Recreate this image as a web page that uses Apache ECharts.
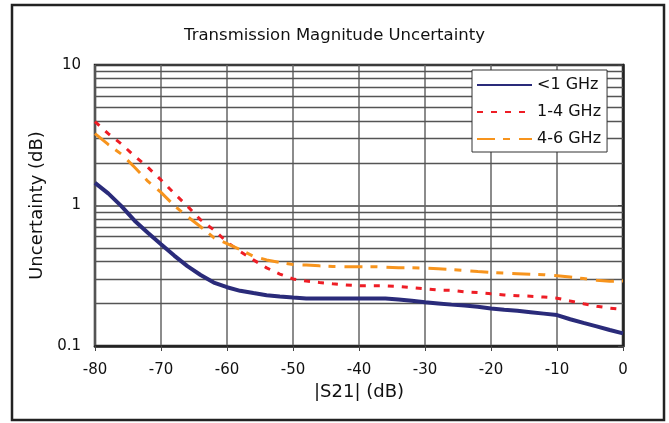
<!DOCTYPE html>
<html>
<head>
<meta charset="utf-8">
<script src="https://cdn.jsdelivr.net/npm/echarts@6/dist/echarts.min.js"></script>
<style>
html,body{margin:0;padding:0;background:#fff;}
#c{width:669px;height:423px;}
</style>
</head>
<body>
<div id="c"></div>
<script>
// S21 (dB) sample points
const s21 = [-80,-78,-76,-74,-72,-70,-68,-66,-64,-62,-60,-58,-56,-54,-52,-50,-48,-46,-44,-42,-40,-38,-36,-34,-32,-30,-28,-26,-24,-22,-20,-18,-16,-14,-12,-10,-8,-6,-4,-2,0];
const below1GHz = [1.45,1.22,0.99,0.78,0.64,0.53,0.44,0.37,0.32,0.283,0.262,0.247,0.238,0.23,0.225,0.221,0.218,0.218,0.218,0.218,0.218,0.218,0.218,0.214,0.21,0.205,0.201,0.197,0.194,0.19,0.185,0.181,0.178,0.174,0.17,0.166,0.155,0.146,0.138,0.13,0.123];
const ghz1to4 = [3.95,3.25,2.74,2.25,1.87,1.52,1.22,0.99,0.79,0.67,0.55,0.47,0.41,0.36,0.325,0.30,0.29,0.283,0.277,0.272,0.268,0.268,0.268,0.265,0.26,0.255,0.25,0.249,0.243,0.24,0.235,0.231,0.228,0.226,0.223,0.219,0.209,0.2,0.192,0.186,0.182];
const ghz4to6 = [3.25,2.72,2.32,1.87,1.49,1.24,1.0,0.835,0.706,0.59,0.535,0.485,0.435,0.41,0.393,0.38,0.377,0.372,0.368,0.367,0.367,0.367,0.364,0.36,0.36,0.358,0.354,0.35,0.345,0.339,0.334,0.33,0.327,0.324,0.322,0.316,0.31,0.302,0.294,0.289,0.29];
const seriesNames = ['<1 GHz','1-4 GHz','4-6 GHz'];
const minorGridValues = [0.2,0.3,0.4,0.5,0.6,0.7,0.8,0.9,2,3,4,5,6,7,8,9];
const titleText = 'Transmission Magnitude Uncertainty';
const xName = '|S21| (dB)';
const yName = 'Uncertainty (dB)';

const pair = arr => s21.map((x,i)=>[x,arr[i]]);
const font = 'DejaVu Sans, Verdana, sans-serif';

const chart = echarts.init(document.getElementById('c'));
chart.setOption({
  animation:false,
  backgroundColor:'#fff',
  title:{text:titleText,left:'center',top:22,padding:[5,5,5,16],
    textStyle:{fontFamily:font,fontSize:16.5,fontWeight:'normal',color:'#111'}},
  graphic:[{type:'rect',shape:{x:12,y:5,width:652,height:415},style:{fill:null,stroke:'#222',lineWidth:2.5},silent:true,z:0}],
  grid:{left:95,right:46,top:65,bottom:77,show:true,borderColor:'#222',borderWidth:2.5,backgroundColor:'#fff'},
  legend:{
    data:seriesNames,orient:'vertical',left:472,top:70,z:10,
    padding:[7,6,5,4],itemGap:11,itemWidth:55,itemHeight:16,
    backgroundColor:'#fff',borderColor:'#333',borderWidth:1,
    itemStyle:{color:'transparent',borderWidth:0,opacity:0},
    textStyle:{fontFamily:font,fontSize:16,color:'#111'}
  },
  xAxis:{
    type:'value',min:-80,max:0,interval:10,
    name:xName,nameLocation:'middle',nameGap:29,
    nameTextStyle:{fontFamily:font,fontSize:18,color:'#111'},
    axisLine:{lineStyle:{color:'#222',width:2.5}},
    axisTick:{show:true,inside:false,length:5,lineStyle:{color:'#444',width:1}},
    axisLabel:{fontFamily:font,fontSize:15,color:'#111',margin:17},
    splitLine:{show:true,lineStyle:{color:'#666',width:1.5}}
  },
  yAxis:{
    type:'log',logBase:10,min:0.1,max:10,
    name:yName,nameLocation:'middle',nameGap:40,
    nameTextStyle:{fontFamily:font,fontSize:18,color:'#111'},
    axisLine:{show:true,lineStyle:{color:'#222',width:2.5}},
    axisTick:{show:true,inside:false,length:5,lineStyle:{color:'#444',width:1}},
    axisLabel:{fontFamily:font,fontSize:15,color:'#111',margin:14,formatter:v=>String(v)},
    splitLine:{show:true,lineStyle:{color:'#444',width:1.5}}
  },
  series:[
    {name:'grid',type:'line',data:[[-80,1],[0,1]],symbol:'none',lineStyle:{opacity:0},silent:true,z:1,
     markLine:{silent:true,symbol:'none',z:1,label:{show:false},animation:false,
       lineStyle:{color:'#555',width:1.3,type:'solid'},
       data:minorGridValues.map(v=>({yAxis:v}))}},
    {name:seriesNames[0],type:'line',data:pair(below1GHz),symbol:'none',smooth:false,z:3,
     lineStyle:{color:'#2A2B7A',width:4},itemStyle:{color:'#2A2B7A'}},
    {name:seriesNames[1],type:'line',data:pair(ghz1to4),symbol:'none',z:3,
     lineStyle:{color:'#EE1D25',width:3,type:[6,8]},itemStyle:{color:'#EE1D25'}},
    {name:seriesNames[2],type:'line',data:pair(ghz4to6),symbol:'none',z:3,
     lineStyle:{color:'#F7941D',width:3,type:[18,8,7,9]},itemStyle:{color:'#F7941D'}}
  ]
});
</script>
</body>
</html>
